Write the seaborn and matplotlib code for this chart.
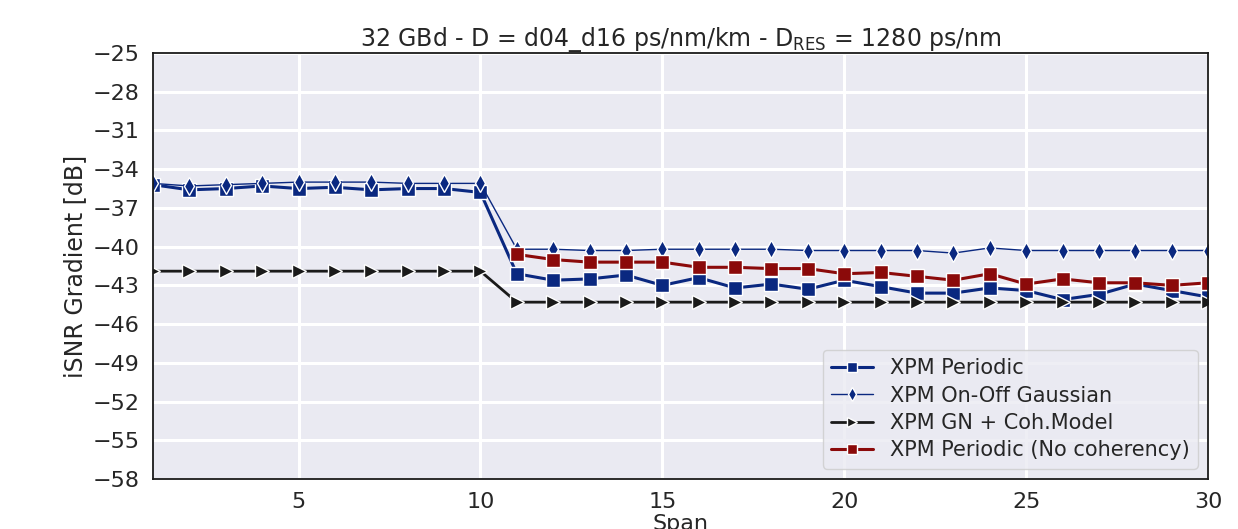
import numpy as np
import pandas as pd
import matplotlib
matplotlib.use("Agg")
import matplotlib.pyplot as plt
import seaborn as sns

spans = list(range(1, 31))

periodic = [-35.2, -35.6, -35.5, -35.3, -35.5, -35.4, -35.6, -35.5, -35.5, -35.8,
            -42.1, -42.6, -42.5, -42.2, -43.0, -42.4, -43.2, -42.9, -43.3, -42.6,
            -43.1, -43.6, -43.6, -43.2, -43.4, -44.1, -43.7, -42.9, -43.4, -43.9]
gaussian = [-35.1, -35.3, -35.2, -35.1, -35.0, -35.0, -35.0, -35.1, -35.1, -35.1,
            -40.2, -40.2, -40.3, -40.3, -40.2, -40.2, -40.2, -40.2, -40.3, -40.3,
            -40.3, -40.3, -40.5, -40.1, -40.3, -40.3, -40.3, -40.3, -40.3, -40.3]
gn_coh = [-41.9] * 10 + [-44.3] * 20
no_coh = [np.nan] * 10 + [
            -40.6, -41.0, -41.2, -41.2, -41.2, -41.6, -41.6, -41.7, -41.7, -42.1,
            -42.0, -42.3, -42.6, -42.1, -42.9, -42.5, -42.8, -42.8, -43.0, -42.8]

labels = ["XPM Periodic", "XPM On-Off Gaussian", "XPM GN + Coh.Model",
          "XPM Periodic (No coherency)"]

df = pd.DataFrame({"Span": spans, labels[0]: periodic, labels[1]: gaussian,
                   labels[2]: gn_coh, labels[3]: no_coh})

sns.set_theme(style="darkgrid")
plt.rcParams["font.family"] = ["DejaVu Sans"]

fig = plt.figure(figsize=(12.38, 5.29), dpi=100)
ax = fig.add_axes([0.1236, 0.0945, 0.8522, 0.8053])

styles = [
    (labels[0], "#0a2880", "s", 2.2, 10.5),
    (labels[1], "#0a2880", "d", 1.0, 9),
    (labels[2], "#1a1a1a", ">", 2.0, 10),
    (labels[3], "#8b0a0a", "s", 2.2, 10.5),
]
for name, col, mk, lw, ms in styles:
    sns.lineplot(data=df, x="Span", y=name, ax=ax, color=col, marker=mk,
                 linewidth=lw, markersize=ms, markeredgecolor="white",
                 markeredgewidth=1.0, label=name)

ax.set_xlim(1, 30)
ax.set_ylim(-58, -25)
ax.set_xticks([5, 10, 15, 20, 25, 30])
ax.set_yticks(np.arange(-25, -59, -3))
ax.tick_params(labelsize=16)
ax.grid(color="white", linewidth=2.2)
for s in ax.spines.values():
    s.set_visible(True)
    s.set_color("#1a1a1a")
    s.set_linewidth(1.3)

ax.set_xlabel("Span", fontsize=16, labelpad=1)
ax.set_ylabel("iSNR Gradient [dB]", fontsize=17)
ax.set_title("32 GBd - D = d04_d16 ps/nm/km - D$_{\\mathrm{RES}}$ = 1280 ps/nm",
             fontsize=17, pad=5)

leg = ax.legend(loc="lower right", fontsize=15, frameon=True, handlelength=2.0,
                markerscale=0.75, borderaxespad=0.5, labelspacing=0.35)
leg.get_frame().set_facecolor("#eaeaf2")
leg.get_frame().set_edgecolor("#cccccc")

fig.savefig("out.png", dpi=100)
